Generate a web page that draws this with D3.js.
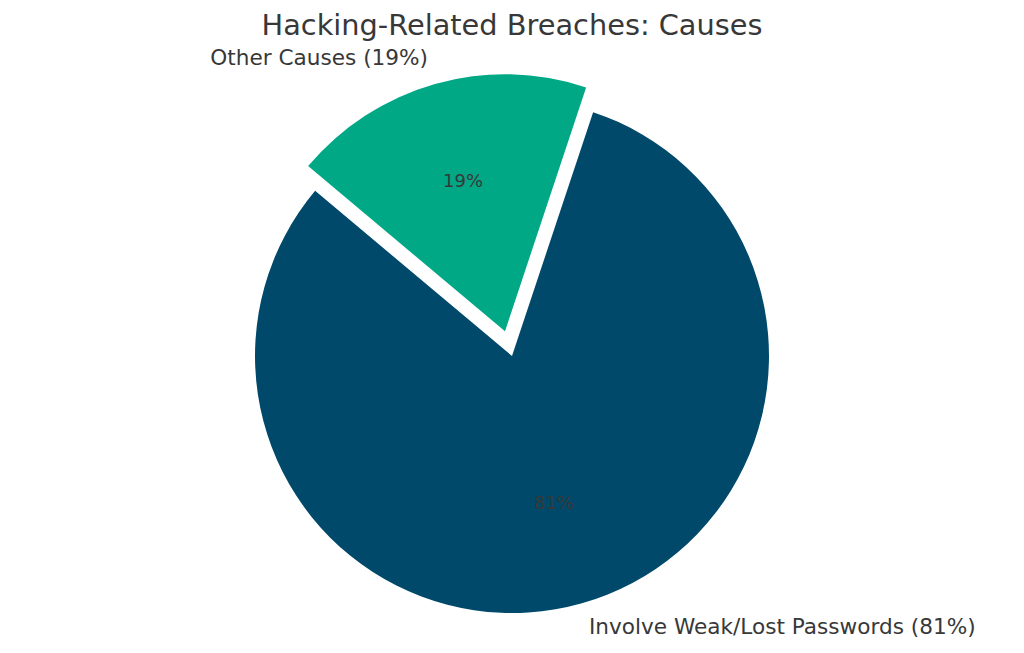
<!DOCTYPE html>
<html>
<head>
<meta charset="utf-8">
<script src="https://cdn.jsdelivr.net/npm/d3@7"></script>
<style>
  body { margin: 0; background: #fff; }
  svg { display: block; font-family: "DejaVu Sans", sans-serif; }
</style>
</head>
<body>
<svg id="chart"></svg>
<script>
// data
var categories = ["Involve Weak/Lost Passwords", "Other Causes"];
var shares = [81, 19];
var sliceColors = ["#00496a", "#00a885"];
var explodeBy = [0, 0.1];

var width = 1024, height = 653;
var cx = 512, cy = 356, radius = 257;
var startDeg = 140; // counter-clockwise from 3 o'clock, like the original

var svg = d3.select("#chart")
    .attr("width", width)
    .attr("height", height);

svg.append("text")
    .attr("x", cx)
    .attr("y", 35)
    .attr("text-anchor", "middle")
    .attr("font-size", 28.8)
    .attr("fill", "#383838")
    .text("Hacking-Related Breaches: Causes");

var toRad = Math.PI / 180;
var pie = d3.pie()
    .sort(null)
    .startAngle((90 - startDeg) * toRad)
    .endAngle((90 - startDeg - 360) * toRad)
    .value(function (d) { return d; });

var arcs = pie(shares);
var arc = d3.arc().innerRadius(0).outerRadius(radius);

// point at distance r along the mid angle of a slice
function along(d, r) {
    var a = (d.startAngle + d.endAngle) / 2;
    return [Math.sin(a) * r, -Math.cos(a) * r];
}

var g = svg.append("g").attr("transform", "translate(" + cx + "," + cy + ")");

var slice = g.selectAll("g.slice")
    .data(arcs)
    .enter()
    .append("g")
    .attr("class", "slice")
    .attr("transform", function (d, i) {
        var p = along(d, explodeBy[i] * radius);
        return "translate(" + p + ")";
    });

slice.append("path")
    .attr("d", arc)
    .attr("fill", function (d, i) { return sliceColors[i]; });

// percentage inside
slice.append("text")
    .attr("x", function (d) { return along(d, 0.6 * radius)[0]; })
    .attr("y", function (d) { return along(d, 0.6 * radius)[1] - 2; })
    .attr("text-anchor", "middle")
    .attr("dominant-baseline", "central")
    .attr("font-size", 18)
    .attr("fill", "#383838")
    .text(function (d) { return d.data + "%"; });

// outer labels
slice.append("text")
    .attr("x", function (d) { return along(d, 1.1 * radius)[0]; })
    .attr("y", function (d) { return along(d, 1.1 * radius)[1] - 2; })
    .attr("text-anchor", function (d) { return along(d, 1)[0] > 0 ? "start" : "end"; })
    .attr("dominant-baseline", "central")
    .attr("font-size", 21.6)
    .attr("fill", "#383838")
    .text(function (d, i) { return categories[i] + " (" + d.data + "%)"; });
</script>
</body>
</html>
